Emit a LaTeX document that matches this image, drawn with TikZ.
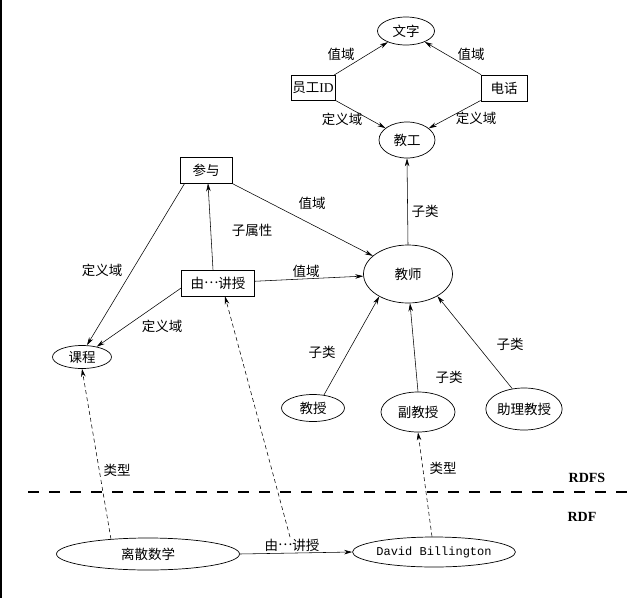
\documentclass[tikz,border=0pt]{standalone}
\usepackage{fontspec}
\setmainfont{Liberation Serif}
\newfontfamily\cjk{Noto Sans CJK SC}
\newfontfamily\monofnt{Liberation Mono}
\usetikzlibrary{shapes.geometric,arrows.meta}
\newcommand{\midell}{\raisebox{0.32em}{…}}
\begin{document}
\begin{tikzpicture}[x=1pt,y=-1pt,
  every node/.style={font=\cjk\fontsize{13.5}{14}\selectfont},
  ell/.style={draw,ellipse,line width=0.7pt,inner sep=0pt},
  box/.style={draw,rectangle,line width=0.7pt,inner sep=0pt,minimum height=26pt},
  lbl/.style={inner sep=0pt,font=\cjk\fontsize{13.5}{14}\selectfont},
  edge/.style={line width=0.55pt,-{Stealth[length=8pt,width=4.5pt]}},
  typ/.style={line width=0.55pt,dash pattern=on 4pt off 3pt,-{Stealth[length=8pt,width=4.5pt]}}
]
\useasboundingbox (0,0) rectangle (630,598);
\draw[line width=1.5pt] (0.75,0) -- (0.75,598);

% nodes
\node[ell,minimum width=57pt,minimum height=28pt] (wenzi) at (406,31) {文字};
\node[box,minimum width=44pt,minimum height=25pt] (yuangong) at (313,88) {员工{\rmfamily ID}};
\node[box,minimum width=46pt] (dianhua) at (504,88) {电话};
\node[ell,minimum width=56pt,minimum height=36pt] (jiaogong) at (407,140) {教工};
\node[box,minimum width=52pt] (canyu) at (206,170) {参与};
\node[box,minimum width=73pt] (youjiang) at (218,283) {由\midell 讲授};
\node[ell,minimum width=89pt,minimum height=58pt] (jiaoshi) at (408,274) {教师};
\node[ell,minimum width=59pt,minimum height=23pt] (kecheng) at (82,357) {课程};
\node[ell,minimum width=63pt,minimum height=27pt] (jiaoshou) at (313,408) {教授};
\node[ell,minimum width=74pt,minimum height=40pt] (fu) at (418,412) {副教授};
\node[ell,minimum width=72pt,minimum height=42pt] (zhuli) at (524,409) {助理教授};
\node[ell,minimum width=183pt,minimum height=32pt] (lisan) at (148,554) {离散数学};
\node[ell,minimum width=152pt,minimum height=30pt,font=\monofnt\fontsize{12}{12}\selectfont] (db) at (434,552) {David Billington};
\coordinate (reif) at (290,537);

% RDFS/RDF separator
\draw[line width=1.2pt,dash pattern=on 11pt off 10pt] (28,492) -- (630,492);
\node[inner sep=0pt,font=\rmfamily\bfseries\fontsize{14}{14}\selectfont] (rdfs) at (587,478) {RDFS};
\node[inner sep=0pt,font=\rmfamily\bfseries\fontsize{14}{14}\selectfont] (rdf) at (582,517) {RDF};

% edges top
\draw[edge] (yuangong) -- (wenzi);
\draw[edge] (dianhua) -- (wenzi);
\draw[edge] (yuangong) -- (jiaogong);
\draw[edge] (dianhua) -- (jiaogong);
\draw[edge] (jiaoshi.north) -- (jiaogong.south);

% property edges
\draw[edge] ([xshift=5pt]canyu.south west) -- ([xshift=5pt]kecheng.north);
\draw[edge] (canyu) -- (jiaoshi);
\draw[edge] ([xshift=-5pt]youjiang.north) -- ([xshift=2pt]canyu.south);
\draw[edge] ([yshift=-5pt]youjiang.west) -- (kecheng.35);
\draw[edge] (youjiang) -- (jiaoshi);

% subclass edges
\draw[edge] (jiaoshou.50) -- (jiaoshi.218);
\draw[edge] (fu.north) -- ([xshift=2pt]jiaoshi.south);
\draw[edge] (zhuli.120) -- (jiaoshi.323);

% RDF level
\draw[edge] (lisan.east) -- (db.west);
\draw[typ] (lisan.158) -- (kecheng.south);
\draw[typ] ([xshift=-2pt]db.north) -- (fu.south);
\draw[typ] (reif) -- ([xshift=7pt]youjiang.south);

% labels
\node[lbl] at (341,54) {值域};
\node[lbl] at (471,54) {值域};
\node[lbl] at (342,119) {定义域};
\node[lbl] at (476,118) {定义域};
\node[lbl] at (425,211) {子类};
\node[lbl] at (312,203) {值域};
\node[lbl] at (252,230) {子属性};
\node[lbl] at (306,271) {值域};
\node[lbl] at (102,270) {定义域};
\node[lbl] at (162,326) {定义域};
\node[lbl] at (322,352) {子类};
\node[lbl] at (449,377) {子类};
\node[lbl] at (510,344) {子类};
\node[lbl] at (117,470) {类型};
\node[lbl] at (443,468) {类型};
\node[lbl] at (292,545) {由\midell 讲授};
\end{tikzpicture}
\end{document}
